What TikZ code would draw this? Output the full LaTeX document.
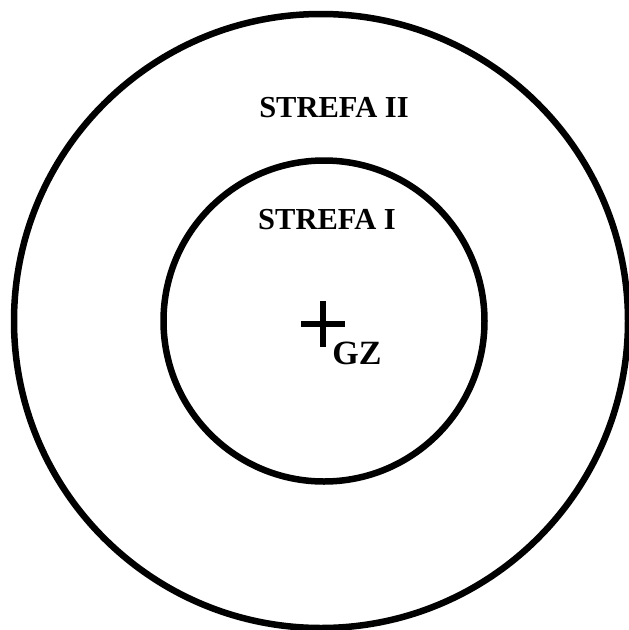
\documentclass[tikz,border=0pt]{standalone}
\usepackage{fontspec}
\setmainfont{Liberation Serif}
\begin{document}
\begin{tikzpicture}[
    x=1pt, y=-1pt,
    zone/.style={circle, draw=black, line width=6.5pt, inner sep=0pt},
    zonelabel/.style={font=\fontsize{30.5}{36}\selectfont\bfseries, inner sep=0pt},
    crossline/.style={draw=black, line width=5.5pt},
]
\useasboundingbox (0,0) rectangle (629,630);
\node[zone, minimum size=614pt] (outer) at (321,321) {};
\node[zone, minimum size=321pt] (inner) at (324,321) {};
\node[zonelabel] (strefa2) at (334,108) {STREFA II};
\node[zonelabel] (strefa1) at (327,220) {STREFA I};
% ground zero
\coordinate (gz) at (323,324);
\draw[crossline] (gz) ++(-22,0) -- ++(44,0);
\draw[crossline] (gz) ++(0,-23) -- ++(0,46);
\node[zonelabel, font=\fontsize{34}{40}\selectfont\bfseries] (gzlabel) at (357,353) {GZ};
\end{tikzpicture}
\end{document}
